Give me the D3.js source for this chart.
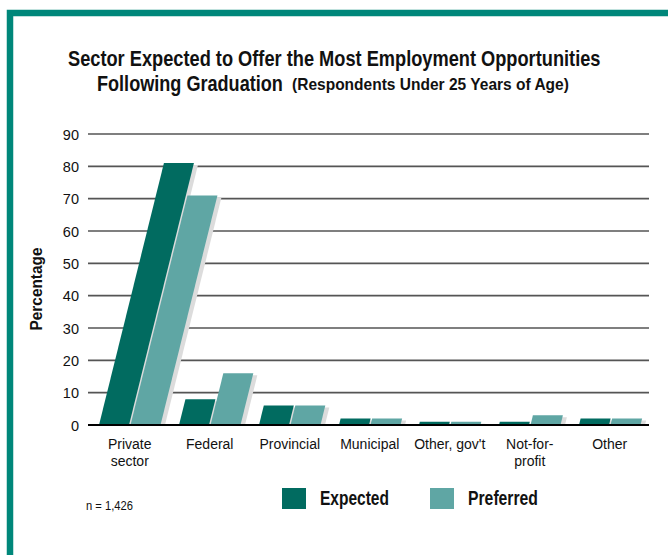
<!DOCTYPE html>
<html>
<head>
<meta charset="utf-8">
<script src="https://cdn.jsdelivr.net/npm/d3@7/dist/d3.min.js"></script>
<style>
  html, body { margin: 0; padding: 0; background: #fff; }
  svg { display: block; }
  .cond { font-family: "Liberation Sans Narrow", "Liberation Sans", Arial, sans-serif; }
  .reg { font-family: "Liberation Sans", Arial, sans-serif; }
</style>
</head>
<body>
<svg id="chart" width="668" height="555"></svg>
<script>
// Survey results: sector expected vs preferred for employment (respondents under 25)
const categories = ["Private sector", "Federal", "Provincial", "Municipal", "Other, gov't", "Not-for-profit", "Other"];
const categoryLines = [["Private", "sector"], ["Federal"], ["Provincial"], ["Municipal"], ["Other, gov't"], ["Not-for-", "profit"], ["Other"]];
const expected = [81, 8, 6, 2, 1, 1, 2];
const preferred = [71, 16, 6, 2, 1, 3, 2];
const seriesNames = ["Expected", "Preferred"];
const yTicks = [0, 10, 20, 30, 40, 50, 60, 70, 80, 90];

const colors = { Expected: "#016b60", Preferred: "#5fa6a4" };
const frameColor = "#00877a";

const svg = d3.select("#chart");

// teal frame along top and left edges
svg.append("path")
  .attr("d", "M10,555 L10,13 L668,13")
  .attr("fill", "none")
  .attr("stroke", frameColor)
  .attr("stroke-width", 6.5);

// condensed bold text: measured, then squeezed horizontally to a target width
function condText(sel, x, yPos, size, width, str) {
  const t = sel.append("text")
    .attr("class", "cond")
    .attr("x", 0).attr("y", 0)
    .attr("font-weight", "bold")
    .attr("font-size", size)
    .attr("fill", "#111")
    .text(str);
  const natural = t.node().getComputedTextLength();
  const k = natural > 0 ? width / natural : 1;
  t.attr("transform", `translate(${x},${yPos}) scale(${k},1)`);
  return t;
}

// title
condText(svg, 68, 66, 22, 533, "Sector Expected to Offer the Most Employment Opportunities");
condText(svg, 97, 91, 22, 186, "Following Graduation");
condText(svg, 292, 90, 16.5, 277, "(Respondents Under 25 Years of Age)");

// scales
const x = d3.scaleBand().domain(categories).range([88, 648]).paddingInner(0).paddingOuter(0);
const y = d3.scaleLinear().domain([0, 90]).range([425, 134]);

const barW = 30, gap = 1.5, groupOffset = 11;
const skew = 0.248; // horizontal lean per pixel of bar height

// gridlines
svg.append("g")
  .selectAll("line")
  .data(yTicks.filter(d => d > 0))
  .join("line")
  .attr("x1", 88).attr("x2", 649)
  .attr("y1", d => y(d)).attr("y2", d => y(d))
  .attr("stroke", "#555")
  .attr("stroke-width", 1.6);

// y axis labels
const yAxis = d3.axisLeft(y).tickValues(yTicks).tickSize(0).tickPadding(0);
const gy = svg.append("g").attr("transform", "translate(79,0)").call(yAxis);
gy.select(".domain").remove();
gy.selectAll("text")
  .attr("class", "reg")
  .attr("font-size", 14.5)
  .attr("fill", "#111")
  .attr("dy", "0.36em");

// y axis title
const yTitle = svg.append("text")
  .attr("class", "cond")
  .attr("text-anchor", "middle")
  .attr("font-weight", "bold")
  .attr("font-size", 16)
  .attr("fill", "#111")
  .text("Percentage");
const yTitleK = 83 / yTitle.node().getComputedTextLength();
yTitle.attr("transform", `translate(42,289) rotate(-90) scale(${yTitleK},1)`);

// slanted bar shape
function barPath(x0, v) {
  const y0 = y(0), y1 = y(v), h = y0 - y1, s = h * skew;
  return `M${x0},${y0} L${x0 + barW},${y0} L${x0 + barW + s},${y1} L${x0 + s},${y1} Z`;
}

const rows = [];
categories.forEach((c, i) => {
  rows.push({ cat: c, series: "Expected", value: expected[i], x0: x(c) + groupOffset });
  rows.push({ cat: c, series: "Preferred", value: preferred[i], x0: x(c) + groupOffset + barW + gap });
});

svg.append("clipPath").attr("id", "plotClip")
  .append("rect").attr("x", 0).attr("y", 0).attr("width", 668).attr("height", y(0));

// soft gray shadows behind bars
svg.append("g").attr("clip-path", "url(#plotClip)")
  .selectAll("path")
  .data(rows)
  .join("path")
  .attr("d", d => barPath(d.x0, d.value))
  .attr("transform", "translate(4,2)")
  .attr("fill", "#dcdcdc");

// bars
svg.append("g")
  .selectAll("path")
  .data(rows)
  .join("path")
  .attr("d", d => barPath(d.x0, d.value))
  .attr("fill", d => colors[d.series]);

// baseline
svg.append("line")
  .attr("x1", 88).attr("x2", 649)
  .attr("y1", y(0)).attr("y2", y(0))
  .attr("stroke", "#000")
  .attr("stroke-width", 2);

// category labels
const labels = svg.append("g").attr("class", "reg");
categories.forEach((c, i) => {
  const cx = x(c) + groupOffset + barW + gap / 2;
  const t = labels.append("text")
    .attr("x", cx).attr("y", 449)
    .attr("text-anchor", "middle")
    .attr("font-size", 14)
    .attr("fill", "#111");
  categoryLines[i].forEach((ln, j) => {
    t.append("tspan").attr("x", cx).attr("dy", j === 0 ? 0 : 17).text(ln);
  });
});

// sample size note
const note = svg.append("text")
  .attr("class", "reg")
  .attr("font-size", 12)
  .attr("fill", "#111")
  .text("n = 1,426");
const noteK = 47 / note.node().getComputedTextLength();
note.attr("transform", `translate(86,510) scale(${noteK},1)`);

// legend
const legendX = [282, 430];
const legendW = [69, 70];
const lg = svg.append("g");
seriesNames.forEach((s, i) => {
  lg.append("rect")
    .attr("x", legendX[i]).attr("y", 488)
    .attr("width", 24).attr("height", 21)
    .attr("fill", colors[s]);
  condText(lg, legendX[i] + 38, 504.5, 19.5, legendW[i], s);
});
</script>
</body>
</html>
